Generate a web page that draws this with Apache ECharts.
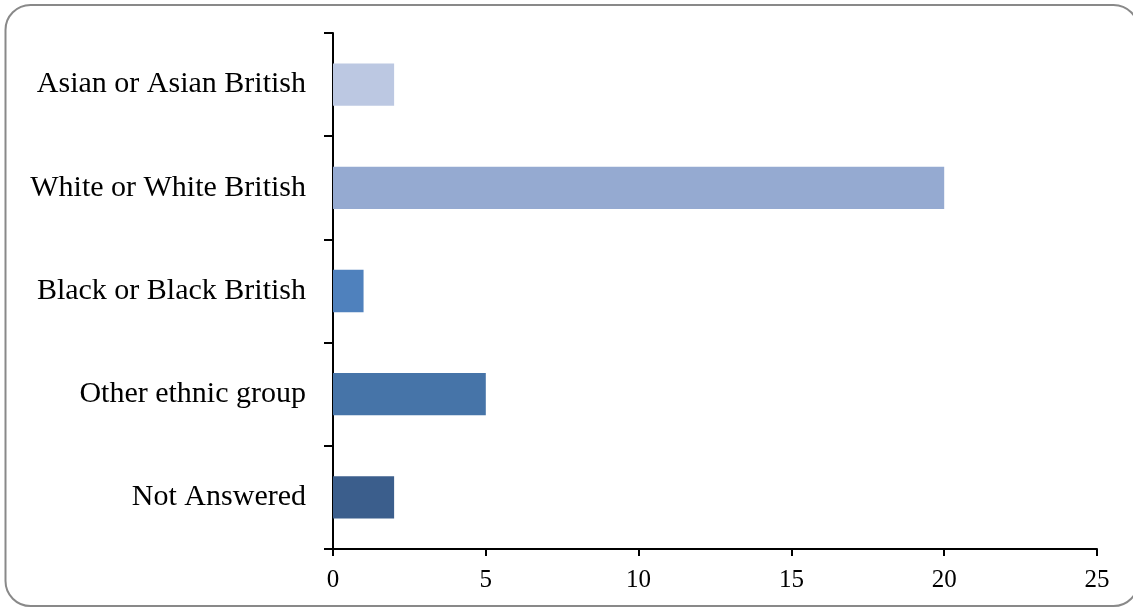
<!DOCTYPE html>
<html>
<head>
<meta charset="utf-8">
<script src="https://cdn.jsdelivr.net/npm/echarts@6/dist/echarts.min.js"></script>
<style>
html,body{margin:0;padding:0;background:#fff;}
#chart{width:1133px;height:607px;}
</style>
</head>
<body>
<div id="chart"></div>
<script>
var categories = ["Not Answered", "Other ethnic group", "Black or Black British", "White or White British", "Asian or Asian British"];
var values = [2, 5, 1, 20, 2];
var barColors = ["#3B5E8C", "#4674A8", "#4F81BD", "#95AAD1", "#BCC8E2"];
var xTicks = [0, 5, 10, 15, 20, 25];

var chart = echarts.init(document.getElementById('chart'));
var font = "'Liberation Serif', 'DejaVu Serif', serif";
chart.setOption({
  animation: false,
  graphic: [{
    type: 'rect',
    shape: {x: 5.5, y: 5, width: 1133, height: 601, r: 25},
    style: {fill: 'none', stroke: '#898989', lineWidth: 2},
    silent: true
  }],
  grid: {left: 333, right: 36, top: 33, bottom: 58},
  xAxis: {
    type: 'value',
    min: xTicks[0],
    max: xTicks[xTicks.length - 1],
    interval: 5,
    splitLine: {show: false},
    axisLine: {show: true, lineStyle: {color: '#000', width: 2}},
    axisTick: {show: true, length: 7, lineStyle: {color: '#000', width: 2}},
    axisLabel: {color: '#000', fontSize: 25, fontFamily: font, margin: 19}
  },
  yAxis: {
    type: 'category',
    data: categories,
    axisLine: {show: true, lineStyle: {color: '#000', width: 2}},
    axisTick: {show: true, length: 9, lineStyle: {color: '#000', width: 2}},
    axisLabel: {color: '#000', fontSize: 30, fontFamily: font, margin: 27, padding: [5, 0, 0, 0]}
  },
  series: [{
    type: 'bar',
    barWidth: '41%',
    data: values.map(function (v, i) {
      return {value: v, itemStyle: {color: barColors[i]}};
    })
  }]
});
</script>
</body>
</html>
